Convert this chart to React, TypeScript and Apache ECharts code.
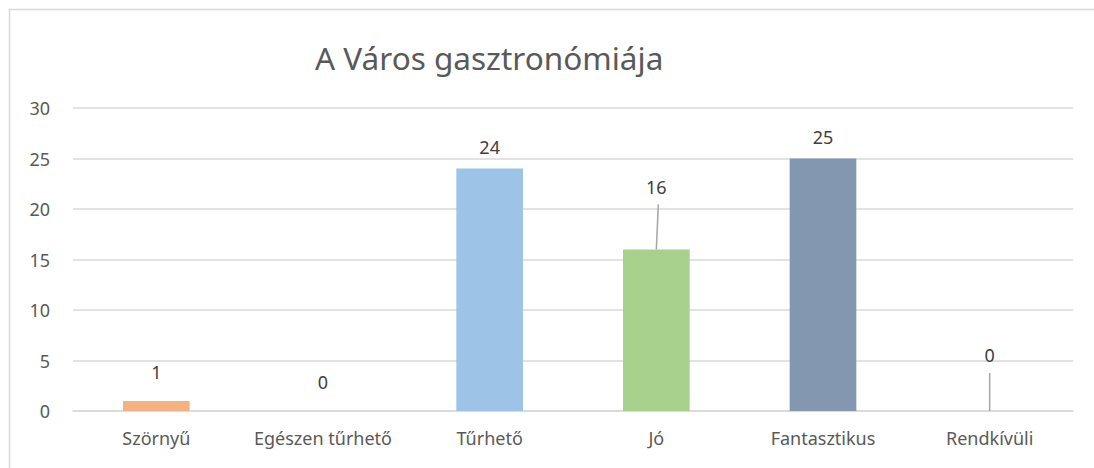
import React, { useEffect, useRef } from "react";
import * as echarts from "echarts";

const categories = ["Szörnyű", "Egészen tűrhető", "Tűrhető", "Jó", "Fantasztikus", "Rendkívüli"];
const values = [1, 0, 24, 16, 25, 0];
const barColors = ["#F4B183", "#F4B183", "#9DC3E6", "#A9D18E", "#8497B0", "#A5A5A5"];
const labelShift = [-7, -7, 0, -40, 0, -34];
const leaderIndex = [3, 5];
const leaderLength = [45, 38];
const yTicks = { min: 0, max: 30, interval: 5 };

export default function App() {
  const ref = useRef<HTMLDivElement>(null);
  useEffect(() => {
    const chart = echarts.init(ref.current!, null, { renderer: "svg" });
    const font = "'Noto Sans', 'Open Sans', sans-serif";
    chart.setOption({
      animation: false,
      backgroundColor: "#ffffff",
      title: {
        text: "A Város gasztronómiája",
        left: 310,
        top: 36,
        textStyle: { fontFamily: font, fontSize: 31.5, fontWeight: "normal", color: "#595959" },
      },
      graphic: [
        { type: "line", shape: { x1: 9, y1: 9.5, x2: 1094, y2: 9.5 }, style: { stroke: "#d9d9d9", lineWidth: 1.5 } },
        { type: "line", shape: { x1: 9.5, y1: 9, x2: 9.5, y2: 468 }, style: { stroke: "#d9d9d9", lineWidth: 1.5 } },
      ],
      grid: { left: 73, right: 21, top: 108, bottom: 57, containLabel: false },
      xAxis: {
        type: "category",
        data: categories,
        axisLine: { show: true, lineStyle: { color: "#d9d9d9", width: 1.5 } },
        axisTick: { show: false },
        axisLabel: { fontFamily: font, fontSize: 18, color: "#595959", margin: 18, interval: 0 },
      },
      yAxis: {
        type: "value",
        min: yTicks.min,
        max: yTicks.max,
        interval: yTicks.interval,
        axisLine: { show: false },
        axisTick: { show: false },
        splitLine: { lineStyle: { color: "#d9d9d9", width: 1.5 } },
        axisLabel: { fontFamily: font, fontSize: 18, color: "#595959", margin: 23 },
      },
      series: [
        {
          type: "bar",
          barWidth: "40%",
          data: values.map((v, i) => ({ value: v, itemStyle: { color: barColors[i] } })),
          label: {
            show: true,
            position: "top",
            distance: 13,
            fontFamily: font,
            fontSize: 18,
            color: "#404040",
          },
          labelLayout: (p: any) => ({ dy: labelShift[p.dataIndex] }),
        },
        {
          type: "custom",
          silent: true,
          z: 5,
          data: leaderIndex.map((idx, k) => [idx, values[idx], leaderLength[k]]),
          renderItem: (params: any, api: any) => {
            const p = api.coord([api.value(0), api.value(1)]);
            const len = api.value(2);
            return {
              type: "line",
              shape: { x1: p[0], y1: p[1], x2: p[0] + (api.value(1) > 0 ? 2 : 0), y2: p[1] - len },
              style: { stroke: "#a6a6a6", lineWidth: 1.5 },
            };
          },
        },
      ],
    });
    return () => chart.dispose();
  }, []);
  return <div ref={ref} style={{ position: "absolute", left: 0, top: 0, width: 1094, height: 468 }} />;
}
